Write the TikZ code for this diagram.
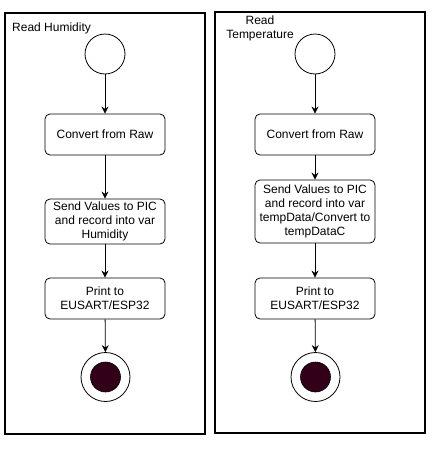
\documentclass[tikz,border=0pt]{standalone}
\usepackage{fontspec}
\setmainfont{Liberation Sans}
\usetikzlibrary{arrows.meta}
\definecolor{endfill}{RGB}{51,0,26}
\begin{document}
\begin{tikzpicture}[x=1pt,y=-1pt,
  frame/.style={draw, line width=1.1pt},
  act/.style={draw, line width=0.8pt, rounded corners=5pt, minimum width=120pt, minimum height=41pt, inner sep=0pt, align=center, font=\fontsize{12}{14}\selectfont},
  startnode/.style={draw, line width=0.8pt, circle, minimum size=40pt, inner sep=0pt},
  endouter/.style={draw, line width=0.8pt, circle, minimum size=49pt, inner sep=0pt},
  endinner/.style={draw, line width=0.6pt, circle, fill=endfill, minimum size=30pt, inner sep=0pt},
  flow/.style={draw, line width=0.8pt, -{Stealth[length=7pt,width=7pt]}},
  title/.style={font=\fontsize{12}{14}\selectfont, inner sep=0pt, align=center}
]
\useasboundingbox (0,0) rectangle (434,450);
\fill[white] (0,0) rectangle (434,450);
% frames
\draw[frame] (5,13) rectangle (205,434);
\draw[frame] (215,12) rectangle (425,433);
\node[title, anchor=west] (t1) at (12,28) {Read Humidity};
\node[title] (t2) at (260,28) {Read\\Temperature};
% left column
\node[startnode] (s1) at (105,54) {};
\node[act] (a1) at (105,134.5) {Convert from Raw};
\node[act, minimum height=45pt] (b1) at (105,221.5) {Send Values to PIC\\and record into var\\Humidity};
\node[act] (c1) at (105,298.5) {Print to\\EUSART/ESP32};
\node[endouter] (e1) at (105.5,377) {};
\node[endinner] (f1) at (105.5,377) {};
\draw[flow] (s1) -- (a1);
\draw[flow] (a1) -- (b1);
\draw[flow] (b1) -- (c1);
\draw[flow] (c1) -- (e1);
% right column
\node[startnode] (s2) at (315,54) {};
\node[act] (a2) at (315,134.5) {Convert from Raw};
\node[act, minimum height=63pt] (b2) at (315,211.5) {Send Values to PIC\\and record into var\\tempData/Convert to\\tempDataC};
\node[act] (c2) at (315,298.5) {Print to\\EUSART/ESP32};
\node[endouter] (e2) at (315.5,377) {};
\node[endinner] (f2) at (315.5,377) {};
\draw[flow] (s2) -- (a2);
\draw[flow] (a2) -- (b2);
\draw[flow] (b2) -- (c2);
\draw[flow] (c2) -- (e2);
\end{tikzpicture}
\end{document}
